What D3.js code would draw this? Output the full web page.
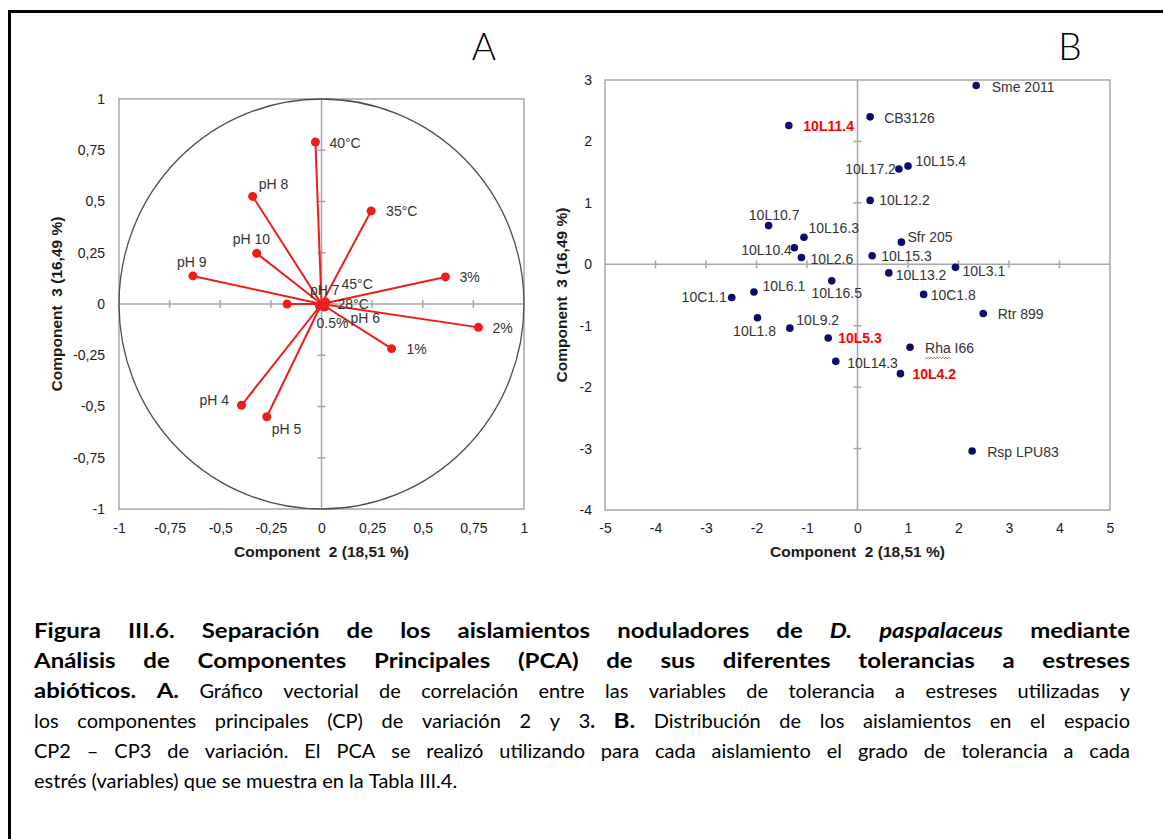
<!DOCTYPE html>
<html>
<head>
<meta charset="utf-8">
<script src="https://cdn.jsdelivr.net/npm/d3@7"></script>
<style>
  html, body { margin: 0; padding: 0; background: #fff; }
  svg { display: block; }
</style>
</head>
<body>
<svg id="fig" width="1163" height="839"></svg>
<script>
// ---- Panel A: correlation of each stress-tolerance variable with CP2 / CP3 ----
const variables = ["40°C", "pH 8", "35°C", "pH 10", "pH 9", "3%", "pH 7", "45°C", "28°C", "0.5%", "pH 6", "2%", "1%", "pH 4", "pH 5"];
const loadCP2   = [-0.03, -0.34, 0.245, -0.32, -0.635, 0.612, -0.17, 0.02, 0.01, -0.01, 0.015, 0.775, 0.346, -0.395, -0.27];
const loadCP3   = [0.79, 0.525, 0.454, 0.247, 0.137, 0.132, 0.0, 0.01, -0.005, -0.01, -0.015, -0.114, -0.218, -0.494, -0.55];

const ticksA      = [-1, -0.75, -0.5, -0.25, 0, 0.25, 0.5, 0.75, 1];
const tickLabelsA = ["-1", "-0,75", "-0,5", "-0,25", "0", "0,25", "0,5", "0,75", "1"];

// ---- Panel B: isolate scores on CP2 / CP3 ----
const isolates  = ["Sme 2011", "CB3126", "10L11.4", "10L17.2", "10L15.4", "10L12.2", "10L10.7", "10L16.3", "Sfr 205", "10L10.4", "10L2.6", "10L15.3", "10L13.2", "10L3.1", "10L16.5", "10L6.1", "10C1.1", "10C1.8", "Rtr 899", "10L1.8", "10L9.2", "10L5.3", "Rha I66", "10L14.3", "10L4.2", "Rsp LPU83"];
const scoreCP2  = [2.35, 0.25, -1.36, 0.82, 1.00, 0.25, -1.76, -1.06, 0.87, -1.25, -1.11, 0.29, 0.62, 1.94, -0.51, -2.05, -2.49, 1.31, 2.49, -1.98, -1.34, -0.58, 1.04, -0.43, 0.85, 2.27];
const scoreCP3  = [2.91, 2.40, 2.26, 1.55, 1.60, 1.04, 0.63, 0.44, 0.36, 0.27, 0.11, 0.14, -0.14, -0.05, -0.27, -0.45, -0.54, -0.49, -0.80, -0.87, -1.04, -1.20, -1.35, -1.58, -1.78, -3.04];
const highlighted = ["10L11.4", "10L5.3", "10L4.2"];

const ticksBx = [-5, -4, -3, -2, -1, 0, 1, 2, 3, 4, 5];
const ticksBy = [-4, -3, -2, -1, 0, 1, 2, 3];

const axisTitleX = "Component  2 (18,51 %)";
const axisTitleY = "Component  3 (16,49 %)";

// label placement (pixel offsets from the marker, anchor)
const placeA = {
  "40°C": [14, 1, "start"], "pH 8": [6, -12, "start"], "35°C": [15, 0, "start"],
  "pH 10": [-24, -14, "start"], "pH 9": [-16, -14, "start"], "3%": [14, 0, "start"],
  "pH 7": [23, -14, "start"], "45°C": [16, -18, "start"], "28°C": [14, -1, "start"],
  "0.5%": [-3, 17, "start"], "pH 6": [26, 11, "start"], "2%": [14, 1, "start"],
  "1%": [15, 0, "start"], "pH 4": [-42, -5, "start"], "pH 5": [5, 12, "start"]
};
const placeB = {
  "Sme 2011": [15.5, 1, "start"], "CB3126": [14, 1, "start"], "10L11.4": [14.5, 1, "start"],
  "10L17.2": [-3, 0, "end"], "10L15.4": [7.5, -5, "start"], "10L12.2": [9, 0, "start"],
  "10L10.7": [5.5, -11, "middle"], "10L16.3": [4.5, -9, "start"], "Sfr 205": [6, -5, "start"],
  "10L10.4": [-2.5, 2, "end"], "10L2.6": [9, 1, "start"], "10L15.3": [9, 0, "start"],
  "10L13.2": [7, 2, "start"], "10L3.1": [7, 4, "start"], "10L16.5": [5, 12, "middle"],
  "10L6.1": [8.5, -6, "start"], "10C1.1": [-5, 0, "end"], "10C1.8": [7, 1, "start"],
  "Rtr 899": [14.5, 1, "start"], "10L1.8": [-3, 13, "middle"], "10L9.2": [6.5, -8, "start"],
  "10L5.3": [10, 0, "start"], "Rha I66": [15, 1, "start"], "10L14.3": [11.5, 2, "start"],
  "10L4.2": [12, 0, "start"], "Rsp LPU83": [15, 1, "start"]
};

const FONT = "'Liberation Sans', Arial, Helvetica, sans-serif";
const GRID = "#a6a6a6";
const RED = "#ee1c1c";
const NAVY = "#0b0b6b";

const svg = d3.select("#fig");

// outer figure frame
svg.append("rect")
  .attr("x", 9.5).attr("y", 11.5).attr("width", 1300).attr("height", 1000)
  .attr("fill", "none").attr("stroke", "#000").attr("stroke-width", 3);

// panel letters
svg.append("text").attr("x", 484).attr("y", 60).attr("text-anchor", "middle")
  .attr("font-family", "Lato, 'Open Sans', sans-serif").attr("font-weight", 300)
  .attr("font-size", 37).attr("fill", "#000").text("A");
svg.append("text").attr("x", 1070).attr("y", 60).attr("text-anchor", "middle")
  .attr("font-family", "Lato, 'Open Sans', sans-serif").attr("font-weight", 300)
  .attr("font-size", 37).attr("fill", "#000").text("B");

function styleAxis(g) {
  g.select(".domain").remove();
  g.attr("font-family", FONT).attr("font-size", 14).attr("color", "#1a1a1a");
}

function drawFrame(g, x, y, xTicks, yTicks, xFmt, yFmt, pad) {
  const [x0, x1] = x.range();
  const [y0, y1] = y.range();
  g.append("rect")
    .attr("x", x0).attr("y", y1).attr("width", x1 - x0).attr("height", y0 - y1)
    .attr("fill", "none").attr("stroke", GRID).attr("stroke-width", 1.5);
  // zero axes
  g.append("line").attr("x1", x0).attr("x2", x1).attr("y1", y(0)).attr("y2", y(0))
    .attr("stroke", GRID).attr("stroke-width", 1.5);
  g.append("line").attr("x1", x(0)).attr("x2", x(0)).attr("y1", y0).attr("y2", y1)
    .attr("stroke", GRID).attr("stroke-width", 1.5);
  // tick crosses on zero axes
  g.append("g").selectAll("line").data(xTicks.filter(t => t !== 0 && t !== x.domain()[0] && t !== x.domain()[1]))
    .join("line").attr("x1", d => x(d)).attr("x2", d => x(d))
    .attr("y1", y(0) - 4).attr("y2", y(0) + 4).attr("stroke", GRID).attr("stroke-width", 1.5);
  g.append("g").selectAll("line").data(yTicks.filter(t => t !== 0 && t !== y.domain()[0] && t !== y.domain()[1]))
    .join("line").attr("y1", d => y(d)).attr("y2", d => y(d))
    .attr("x1", x(0) - 4).attr("x2", x(0) + 4).attr("stroke", GRID).attr("stroke-width", 1.5);
  // tick labels
  g.append("g").attr("transform", `translate(0,${y0})`)
    .call(d3.axisBottom(x).tickValues(xTicks).tickFormat(xFmt).tickSize(0).tickPadding(pad))
    .call(styleAxis);
  g.append("g").attr("transform", `translate(${x0},0)`)
    .call(d3.axisLeft(y).tickValues(yTicks).tickFormat(yFmt).tickSize(0).tickPadding(pad))
    .call(styleAxis);
}

function axisTitles(g, cx, ty, tx, cy) {
  g.append("text").attr("x", cx).attr("y", ty).attr("text-anchor", "middle")
    .attr("font-family", FONT).attr("font-weight", "bold").attr("font-size", 15.5)
    .attr("fill", "#1a1a1a").style("white-space", "pre").text(axisTitleX);
  g.append("text").attr("transform", `translate(${tx},${cy}) rotate(-90)`)
    .attr("text-anchor", "middle")
    .attr("font-family", FONT).attr("font-weight", "bold").attr("font-size", 15.5)
    .attr("fill", "#1a1a1a").style("white-space", "pre").text(axisTitleY);
}

// ================= Panel A =================
const xA = d3.scaleLinear().domain([-1, 1]).range([119, 524]);
const yA = d3.scaleLinear().domain([-1, 1]).range([509, 99]);
const gA = svg.append("g");
drawFrame(gA, xA, yA, ticksA, ticksA,
  (d, i) => tickLabelsA[i], (d, i) => tickLabelsA[i], 14);

// unit correlation circle
gA.append("ellipse")
  .attr("cx", xA(0)).attr("cy", yA(0))
  .attr("rx", xA(1) - xA(0)).attr("ry", yA(0) - yA(1))
  .attr("fill", "none").attr("stroke", "#4d4d4d").attr("stroke-width", 1.3);

const vecs = variables.map((v, i) => ({ name: v, x: loadCP2[i], y: loadCP3[i] }));
gA.append("g").selectAll("line").data(vecs).join("line")
  .attr("x1", xA(0)).attr("y1", yA(0))
  .attr("x2", d => xA(d.x)).attr("y2", d => yA(d.y))
  .attr("stroke", RED).attr("stroke-width", 2);
gA.append("g").selectAll("circle").data(vecs).join("circle")
  .attr("cx", d => xA(d.x)).attr("cy", d => yA(d.y)).attr("r", 4.5)
  .attr("fill", RED);
gA.append("g").selectAll("text").data(vecs).join("text")
  .attr("x", d => xA(d.x) + placeA[d.name][0])
  .attr("y", d => yA(d.y) + placeA[d.name][1])
  .attr("dy", "0.36em")
  .attr("text-anchor", d => placeA[d.name][2])
  .attr("font-family", FONT).attr("font-size", 14).attr("fill", "#333")
  .text(d => d.name);

axisTitles(gA, xA(0), 557, 62, yA(0));

// ================= Panel B =================
const xB = d3.scaleLinear().domain([-5, 5]).range([605, 1110]);
const yB = d3.scaleLinear().domain([-4, 3]).range([510, 80]);
const gB = svg.append("g");
drawFrame(gB, xB, yB, ticksBx, ticksBy, d => String(d), d => String(d), 13);

const pts = isolates.map((n, i) => ({ name: n, x: scoreCP2[i], y: scoreCP3[i], hi: highlighted.includes(n) }));
gB.append("g").selectAll("circle").data(pts).join("circle")
  .attr("cx", d => xB(d.x)).attr("cy", d => yB(d.y)).attr("r", 3.8)
  .attr("fill", NAVY);
const labB = gB.append("g").selectAll("text").data(pts).join("text")
  .attr("x", d => xB(d.x) + placeB[d.name][0])
  .attr("y", d => yB(d.y) + placeB[d.name][1])
  .attr("dy", "0.36em")
  .attr("text-anchor", d => placeB[d.name][2])
  .attr("font-family", FONT).attr("font-size", 14)
  .attr("font-weight", d => d.hi ? "bold" : "normal")
  .attr("fill", d => d.hi ? "#ff0000" : "#333")
  .text(d => d.name);

// spell-check style wavy underline under "Rha"
labB.filter(d => d.name === "Rha I66").each(function (d) {
  const node = this;
  const probe = gB.append("text").attr("font-family", FONT).attr("font-size", 14).text("Rha");
  const w = probe.node().getComputedTextLength();
  probe.remove();
  const x0 = +node.getAttribute("x");
  const yb = +node.getAttribute("y") + 5 + 4.5;
  const pathPts = [];
  for (let x = 0, k = 0; x <= w; x += 1.5, k++) pathPts.push([x0 + x, yb + (k % 2 ? 1 : -0.5)]);
  gB.append("path").attr("d", d3.line()(pathPts))
    .attr("fill", "none").attr("stroke", "#e03030").attr("stroke-width", 0.9);
});

axisTitles(gB, xB(0), 557, 567, (yB(-4) + yB(3)) / 2);

// ================= Caption =================
const captionLines = [
  [["Figura III.6. Separación de los aislamientos noduladores de ", "b"], ["D. paspalaceus", "bi"], [" mediante", "b"]],
  [["Análisis de Componentes Principales (PCA) de sus diferentes tolerancias a estreses", "b"]],
  [["abióticos. A.", "b"], [" Gráfico vectorial de correlación entre las variables de tolerancia a estreses utilizadas y", ""]],
  [["los componentes principales (CP) de variación 2 y 3", ""], [". B.", "b"], [" Distribución de los aislamientos en el espacio", ""]],
  [["CP2 – CP3 de variación. El PCA se realizó utilizando para cada aislamiento el grado de tolerancia a cada", ""]],
  [["estrés (variables) que se muestra en la Tabla III.4.", ""]]
];
const CAP_LEFT = 34, CAP_RIGHT = 1130, CAP_BASE = 638, CAP_STEP = 30;
const CAP_FONT = "Lato, 'Open Sans', sans-serif";
const CAP_SIZE = 20;

function toWords(runs) {
  const words = [];
  let cur = [];
  runs.forEach(([txt, st]) => {
    const parts = txt.split(" ");
    parts.forEach((p, k) => {
      if (k > 0) { if (cur.length) words.push(cur); cur = []; }
      if (p.length) cur.push({ t: p, s: st });
    });
  });
  if (cur.length) words.push(cur);
  return words;
}

const capG = svg.append("g");
const avail = CAP_RIGHT - CAP_LEFT;

const sp1 = capG.append("text").attr("font-family", CAP_FONT).attr("font-size", CAP_SIZE)
  .style("white-space", "pre").text("a a");
const sp0 = capG.append("text").attr("font-family", CAP_FONT).attr("font-size", CAP_SIZE).text("aa");
const spaceW = sp1.node().getComputedTextLength() - sp0.node().getComputedTextLength();
sp1.remove(); sp0.remove();

const lineData = captionLines.map((runs, li) => {
  const words = toWords(runs);
  const y = CAP_BASE + li * CAP_STEP;
  return words.map(w => {
    const t = capG.append("text").attr("y", y).attr("font-family", CAP_FONT)
      .attr("font-size", CAP_SIZE).attr("fill", "#000");
    w.forEach(seg => {
      t.append("tspan")
        .attr("font-weight", seg.s.includes("b") ? "bold" : "normal")
        .attr("font-style", seg.s.includes("i") ? "italic" : "normal")
        .text(seg.t);
    });
    return { t, w: t.node().getComputedTextLength(), bold: w.every(seg => seg.s.includes("b")) };
  });
});

// bold face set a little wider, like the document's heading weight
const head = lineData[1];
const headSum = d3.sum(head, n => n.w);
const boldK = Math.min(1.2, Math.max(1, (avail - 2 * spaceW * (head.length - 1)) / headSum));

lineData.forEach((nodes, li) => {
  nodes.forEach(n => {
    if (n.bold && boldK > 1) {
      n.w = n.w * boldK;
      n.t.attr("textLength", n.w).attr("lengthAdjust", "spacingAndGlyphs");
    }
  });
  const sum = d3.sum(nodes, n => n.w);
  const last = li === lineData.length - 1;
  const gap = last ? spaceW : (avail - sum) / (nodes.length - 1);
  let x = CAP_LEFT;
  nodes.forEach(n => { n.t.attr("x", x); x += n.w + gap; });
});
</script>
</body>
</html>
